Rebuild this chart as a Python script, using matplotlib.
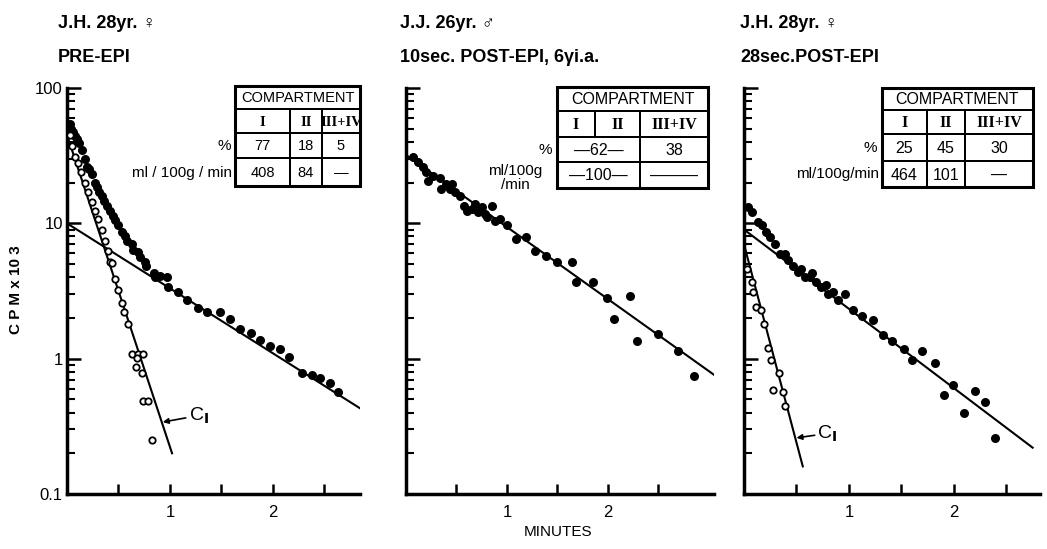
import matplotlib
matplotlib.use("Agg")
import matplotlib.pyplot as plt
from matplotlib.patches import Rectangle

plt.rcParams['font.family'] = ['Liberation Sans', 'DejaVu Sans']

# ---- data (minutes, CPM x 10^3) ----
pre_total_x = [0.03, 0.04, 0.06, 0.08, 0.10, 0.12, 0.15, 0.17, 0.19, 0.21, 0.24, 0.27,
               0.29, 0.31, 0.34, 0.36, 0.39, 0.42, 0.45, 0.47, 0.50, 0.53, 0.56, 0.58,
               0.63, 0.64, 0.69, 0.71, 0.76, 0.77, 0.84, 0.85, 0.90, 0.97, 0.98, 1.08,
               1.17, 1.27, 1.36, 1.49, 1.58, 1.68, 1.79, 1.87, 1.97, 2.07, 2.16, 2.28,
               2.38, 2.46, 2.55, 2.63]
pre_total_y = [54, 50, 47, 44, 42, 39, 35, 30, 26, 25, 23, 20,
               18.5, 17, 15.8, 14.6, 13.4, 12.3, 11.3, 10.5, 9.8, 8.6, 8.0, 7.4,
               7.0, 6.4, 6.1, 5.6, 5.2, 4.8, 4.3, 4.0, 4.1, 4.0, 3.4, 3.1,
               2.7, 2.35, 2.23, 2.2, 1.95, 1.67, 1.56, 1.38, 1.25, 1.17, 1.03, 0.79,
               0.76, 0.72, 0.66, 0.57]
pre_c1_x = [0.03, 0.05, 0.08, 0.11, 0.14, 0.17, 0.20, 0.24, 0.27, 0.30, 0.34, 0.37,
            0.40, 0.42, 0.44, 0.47, 0.50, 0.53, 0.55, 0.59, 0.63, 0.69, 0.74, 0.68,
            0.67, 0.73, 0.74, 0.79, 0.83]
pre_c1_y = [45, 37, 31, 28, 24, 20, 17, 14.3, 12.3, 10.7, 9.0, 7.4,
            6.2, 5.2, 5.1, 3.9, 3.2, 2.6, 2.2, 1.8, 1.09, 1.09, 1.09, 1.02,
            0.87, 0.79, 0.49, 0.49, 0.25]
pre_line2 = ([0, 2.845], [10.0, 0.43])
pre_line1 = ([0, 1.02], [45, 0.2])

jj_x = [0.07, 0.12, 0.17, 0.20, 0.22, 0.27, 0.34, 0.35, 0.40, 0.46, 0.44, 0.49,
        0.53, 0.57, 0.60, 0.65, 0.68, 0.71, 0.75, 0.78, 0.80, 0.85, 0.88, 0.93,
        1.00, 1.09, 1.19, 1.28, 1.39, 1.50, 1.64, 1.68, 1.85, 1.99, 2.22, 2.06,
        2.50, 2.29, 2.69, 2.85]
jj_y = [30.8, 28.3, 26, 23.9, 20.5, 22.3, 21.5, 17.9, 19.4, 19.4, 17.9, 17,
        15.8, 13.4, 12.3, 12.7, 13.8, 12.1, 13.1, 11.7, 11.1, 13.4, 10.4, 10.7,
        9.7, 7.6, 7.9, 6.2, 5.7, 5.2, 5.2, 3.7, 3.7, 2.8, 2.9, 1.98,
        1.53, 1.36, 1.13, 0.74]
jj_line = ([0, 3.05], [32, 0.76])

post_total_x = [0.04, 0.08, 0.13, 0.17, 0.21, 0.25, 0.30, 0.34, 0.39, 0.42, 0.47, 0.51,
                0.54, 0.58, 0.63, 0.65, 0.69, 0.73, 0.78, 0.80, 0.85, 0.90, 0.96, 1.04,
                1.12, 1.23, 1.32, 1.41, 1.52, 1.60, 1.70, 1.82, 1.99, 1.91, 2.20, 2.30,
                2.10, 2.39]
post_total_y = [13.1, 12.1, 10.3, 9.8, 8.7, 7.9, 7.0, 5.9, 5.9, 5.4, 4.8, 4.4,
                4.6, 4.0, 4.0, 4.3, 3.66, 3.4, 3.5, 2.98, 3.1, 2.7, 2.98, 2.3,
                2.05, 1.94, 1.5, 1.34, 1.17, 0.98, 1.13, 0.93, 0.64, 0.54, 0.58, 0.48,
                0.40, 0.26]
post_c1_x = [0.03, 0.08, 0.09, 0.11, 0.16, 0.19, 0.23, 0.26, 0.33, 0.28, 0.37, 0.39]
post_c1_y = [4.6, 3.7, 3.1, 2.4, 2.27, 1.79, 1.19, 0.97, 0.79, 0.59, 0.57, 0.45]
post_line2 = ([0, 2.75], [9.0, 0.22])
post_line1 = ([0, 0.56], [7.0, 0.16])

# table contents
pre_pct = ['77', '18', '5']
pre_flow = ['408', '84', '\u2014']
jj_pct = ['\u201462\u2014', '38']
jj_flow = ['\u2014100\u2014', '\u2014\u2014\u2014']
post_pct = ['25', '45', '30']
post_flow = ['464', '101', '\u2014']
roman = ['I', 'II', 'III+IV']

W, H = 1047, 549
fig = plt.figure(figsize=(W / 100, H / 100), dpi=100)


def fx(px):
    return px / W


def fy(py):
    return 1 - py / H


def make_axes(left_px, right_px, xmax, labels=False):
    ax = fig.add_axes([fx(left_px), fy(494), fx(right_px - left_px), (494 - 88) / H])
    ax.set_yscale('log')
    ax.set_ylim(0.1, 100)
    ax.set_xlim(0, xmax)
    for s in ['top', 'right']:
        ax.spines[s].set_visible(False)
    for s in ['left', 'bottom']:
        ax.spines[s].set_linewidth(2.5)
    ax.set_xticks([0.5, 1, 1.5, 2, 2.5])
    ax.set_xticklabels(['', '1', '', '2', ''])
    ax.tick_params(axis='x', direction='in', length=7, width=1.8, labelsize=12, pad=8)
    ax.tick_params(axis='y', which='major', direction='in', length=10, width=1.8,
                   labelsize=12, pad=3)
    ax.tick_params(axis='y', which='minor', direction='in', length=6, width=1.5)
    ax.set_yticks([0.1, 1, 10, 100])
    if labels:
        ax.set_yticklabels(['0.1', '1', '10', '100'])
    else:
        ax.set_yticklabels([])
    ax.yaxis.set_minor_formatter(matplotlib.ticker.NullFormatter())
    return ax


def filled(ax, x, y):
    ax.plot(x, y, 'o', color='black', ms=6.5, mew=0, zorder=3, clip_on=False)


def hollow(ax, x, y):
    ax.plot(x, y, 'o', mfc='white', mec='black', ms=4.6, mew=1.3, zorder=4, clip_on=False)


def fitline(ax, pts):
    ax.plot(pts[0], pts[1], '-', color='black', lw=1.5, zorder=2)


def title(px, l1, l2):
    fig.text(fx(px), fy(23), l1, fontsize=13, fontweight='bold', va='center', ha='left')
    fig.text(fx(px), fy(57), l2, fontsize=13, fontweight='bold', va='center', ha='left')


def table(cols, rows, cells, fs=11.5):
    for r, c0, c1, txt in cells:
        x0, x1 = cols[c0], cols[c1 + 1]
        y0, y1 = rows[r], rows[r + 1]
        fig.patches.append(Rectangle((fx(x0), fy(y1)), fx(x1 - x0), (y1 - y0) / H,
                                     transform=fig.transFigure, fill=False,
                                     ec='black', lw=1.4))
        kw = dict(fontsize=fs, ha='center', va='center')
        if r == 1:
            kw.update(family=['Liberation Serif', 'DejaVu Serif'], fontweight='bold')
        fig.text(fx((x0 + x1) / 2), fy((y0 + y1) / 2 + 1), txt, **kw)
    fig.patches.append(Rectangle((fx(cols[0]), fy(rows[-1])), fx(cols[-1] - cols[0]),
                                 (rows[-1] - rows[0]) / H, transform=fig.transFigure,
                                 fill=False, ec='black', lw=2.2))


def std_cells(pct, flow):
    cells = [(0, 0, 2, 'COMPARTMENT')]
    cells += [(1, i, i, roman[i]) for i in range(3)]
    cells += [(2, i, i, pct[i]) for i in range(3)]
    cells += [(3, i, i, flow[i]) for i in range(3)]
    return cells


# ---- left panel ----
ax1 = make_axes(67, 360, 2.845, labels=True)
fitline(ax1, pre_line2)
fitline(ax1, pre_line1)
filled(ax1, pre_total_x, pre_total_y)
hollow(ax1, pre_c1_x, pre_c1_y)
ax1.annotate(r'C$_{\mathbf{I}}$', xy=(0.93, 0.34), xytext=(1.18, 0.38), fontsize=14,
             va='center', ha='left',
             arrowprops=dict(arrowstyle='-|>', color='black', lw=1.2,
                             mutation_scale=8, shrinkA=0, shrinkB=0))
title(58, 'J.H. 28yr. \u2640', 'PRE-EPI')
table([235, 290, 322, 360], [86, 109, 133, 158, 186], std_cells(pre_pct, pre_flow), fs=10.5)
fig.text(fx(231), fy(146), '%', fontsize=11, ha='right', va='center')
fig.text(fx(232), fy(173), 'ml / 100g / min', fontsize=11, ha='right', va='center')

# ---- middle panel ----
ax2 = make_axes(406, 714, 3.05)
fitline(ax2, jj_line)
filled(ax2, jj_x, jj_y)
title(400, 'J.J. 26yr. \u2642', '10sec. POST-EPI, 6\u03b3i.a.')
mid_cells = [(0, 0, 2, 'COMPARTMENT')]
mid_cells += [(1, i, i, roman[i]) for i in range(3)]
mid_cells += [(2, 0, 1, jj_pct[0]), (2, 2, 2, jj_pct[1])]
mid_cells += [(3, 0, 1, jj_flow[0]), (3, 2, 2, jj_flow[1])]
table([557, 595, 640, 708], [87, 111, 137, 162, 188], mid_cells)
fig.text(fx(552), fy(150), '%', fontsize=11, ha='right', va='center')
fig.text(fx(515), fy(178), 'ml/100g\n/min', fontsize=11, ha='center', va='center',
         linespacing=0.95)

# ---- right panel ----
ax3 = make_axes(744, 1040, 2.82)
fitline(ax3, post_line2)
fitline(ax3, post_line1)
filled(ax3, post_total_x, post_total_y)
hollow(ax3, post_c1_x, post_c1_y)
ax3.annotate(r'C$_{\mathbf{I}}$', xy=(0.50, 0.26), xytext=(0.70, 0.28), fontsize=14,
             va='center', ha='left',
             arrowprops=dict(arrowstyle='-|>', color='black', lw=1.2,
                             mutation_scale=8, shrinkA=0, shrinkB=0))
title(740, 'J.H. 28yr. \u2640', '28sec.POST-EPI')
table([882, 927, 965, 1033], [88, 110, 134, 161, 187], std_cells(post_pct, post_flow))
fig.text(fx(877), fy(148), '%', fontsize=11, ha='right', va='center')
fig.text(fx(879), fy(174), 'ml/100g/min', fontsize=11, ha='right', va='center')

# axis labels
fig.text(fx(16), fy(290), 'C P M x 10 3', rotation=90, fontsize=11, fontweight='bold',
         ha='center', va='center')
fig.text(fx(558), fy(532), 'MINUTES', fontsize=11, ha='center', va='center')

fig.savefig('out.png', dpi=100)
